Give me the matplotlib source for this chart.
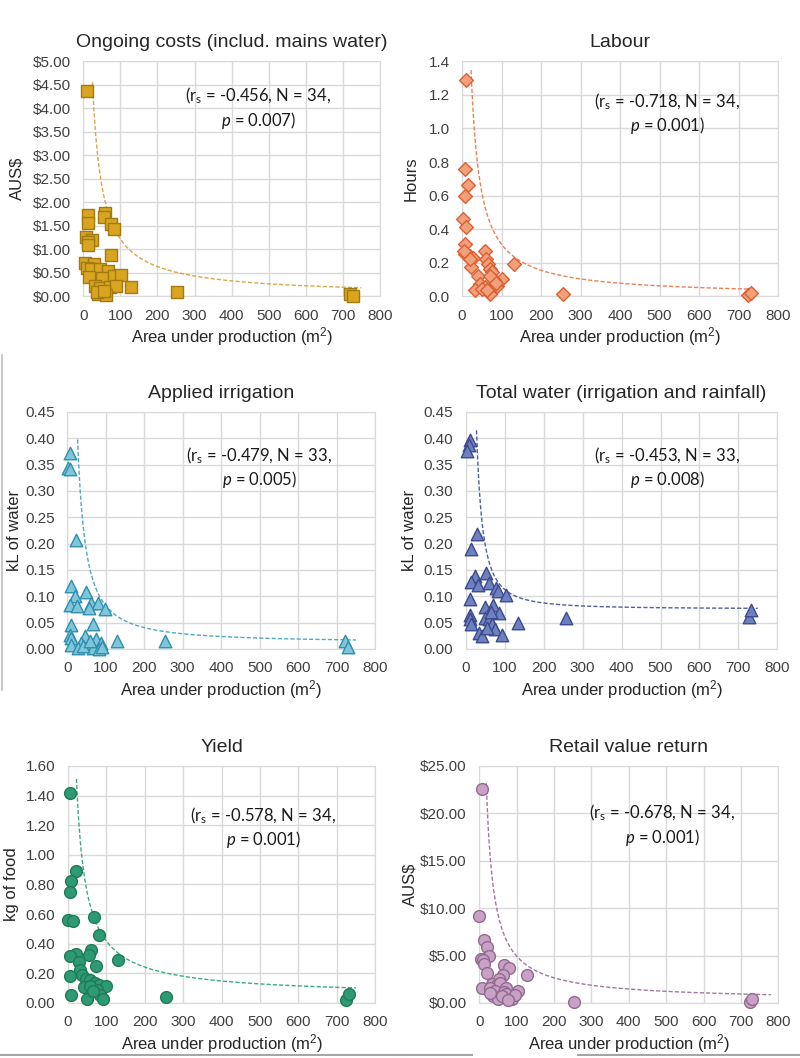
import numpy as np
import matplotlib
matplotlib.use("Agg")
import matplotlib.pyplot as plt
from matplotlib.ticker import StrMethodFormatter, MultipleLocator
from matplotlib.lines import Line2D

plt.rcParams['font.family'] = ['Liberation Sans', 'DejaVu Sans']
plt.rcParams['mathtext.fontset'] = 'custom'
plt.rcParams['mathtext.it'] = 'Lato:italic'
plt.rcParams['mathtext.rm'] = 'Lato'

# --- data (area m2, value) ---
cost_area = [9, 12, 12, 59, 56, 75, 82, 7, 25, 13, 14, 75, 4, 28, 10, 22, 46, 66,
             16, 50, 82, 102, 32, 46, 73, 88, 129, 39, 61, 38, 253, 720, 728, 56]
cost_val = [4.36, 1.72, 1.55, 1.77, 1.69, 1.53, 1.44, 1.26, 1.19, 1.16, 1.09, 0.87,
            0.71, 0.68, 0.61, 0.57, 0.59, 0.54, 0.40, 0.38, 0.43, 0.45, 0.21, 0.18,
            0.20, 0.21, 0.20, 0.04, 0.02, 0.10, 0.09, 0.04, 0.01, 0.12]

labour_area = [10, 8, 15, 8, 3, 11, 7, 8, 19, 28, 23, 57, 62, 67, 72, 76, 40, 45,
               34, 59, 72, 88, 101, 80, 132, 255, 724, 731, 70, 85, 50, 63, 20, 6]
labour_val = [1.29, 0.76, 0.665, 0.595, 0.46, 0.41, 0.31, 0.25, 0.24, 0.23, 0.175,
              0.27, 0.22, 0.19, 0.165, 0.145, 0.12, 0.075, 0.036, 0.055, 0.016, 0.06,
              0.10, 0.095, 0.19, 0.012, 0.006, 0.02, 0.12, 0.08, 0.045, 0.04, 0.22, 0.27]

irr_area = [6, 3, 7, 22, 10, 50, 19, 7, 26, 62, 80, 56, 99, 9, 66, 6, 9, 11, 46,
            35, 28, 56, 76, 87, 67, 82, 130, 255, 722, 729, 40, 60, 90]
irr_val = [0.372, 0.344, 0.341, 0.206, 0.119, 0.109, 0.10, 0.084, 0.081, 0.088,
           0.088, 0.078, 0.075, 0.046, 0.047, 0.027, 0.021, 0.008, 0.024, 0.011,
           0.002, 0.008, 0.018, 0.011, 0.002, 0.0, 0.016, 0.015, 0.015, 0.003,
           0.005, 0.015, 0.003]

tot_area = [10, 8, 2, 27, 12, 23, 51, 12, 32, 60, 77, 83, 103, 9, 49, 69, 86, 9,
            10, 13, 49, 60, 66, 75, 92, 34, 40, 133, 256, 727, 732, 65, 55]
tot_val = [0.396, 0.387, 0.376, 0.218, 0.19, 0.138, 0.145, 0.127, 0.122, 0.125,
           0.116, 0.111, 0.103, 0.095, 0.080, 0.084, 0.068, 0.065, 0.056, 0.048,
           0.059, 0.056, 0.048, 0.037, 0.027, 0.030, 0.025, 0.049, 0.059, 0.061,
           0.074, 0.07, 0.04]

yield_area = [4, 21, 8, 6, 0, 12, 67, 80, 60, 54, 22, 6, 28, 74, 129, 32, 6, 36,
              48, 58, 71, 80, 100, 41, 56, 75, 84, 8, 49, 255, 724, 731, 65, 90]
yield_val = [1.416, 0.894, 0.825, 0.746, 0.557, 0.551, 0.58, 0.456, 0.36, 0.326,
             0.333, 0.319, 0.274, 0.252, 0.292, 0.225, 0.18, 0.191, 0.162, 0.153,
             0.135, 0.124, 0.117, 0.106, 0.112, 0.09, 0.056, 0.056, 0.027, 0.04,
             0.018, 0.063, 0.08, 0.03]

retail_area = [7, 0, 12, 22, 27, 5, 10, 12, 20, 7, 67, 81, 63, 54, 128, 34, 47, 56,
               29, 72, 43, 65, 103, 38, 50, 72, 88, 61, 254, 723, 729, 95, 30, 76]
retail_val = [22.57, 9.15, 6.69, 5.92, 4.96, 4.68, 4.51, 4.08, 3.17, 1.58, 3.98,
              3.73, 2.92, 2.57, 2.99, 2.04, 1.87, 2.11, 1.62, 1.58, 1.23, 1.16, 1.23,
              0.70, 0.46, 0.92, 0.46, 0.70, 0.11, 0.11, 0.39, 0.8, 1.1, 0.3]

# dashed trendlines y = a*x^b + c, drawn from x_start to x_end
trend_a = [97, 31, 28, 92, 23.8, 377]
trend_b = [-0.95, -1.0, -1.3, -1.7, -0.9, -0.95]
trend_c = [0, 0, 0.012, 0.076, 0.04, 0.2]
trend_x = [(25, 750), (23, 745), (27, 750), (27, 750), (22, 750), (19, 780)]

titles = ["Ongoing costs (includ. mains water)", "Labour", "Applied irrigation",
          "Total water (irrigation and rainfall)", "Yield", "Retail value return"]
ylabels = ["AUS$", "Hours", "kL of water", "kL of water", "kg of food", "AUS$"]
stats = [("-0.456", "34", "0.007"), ("-0.718", "34", "0.001"),
         ("-0.479", "33", "0.005"), ("-0.453", "33", "0.008"),
         ("-0.578", "34", "0.001"), ("-0.678", "34", "0.001")]
areas = [cost_area, labour_area, irr_area, tot_area, yield_area, retail_area]
values = [cost_val, labour_val, irr_val, tot_val, yield_val, retail_val]

ymax = [5.0, 1.4, 0.45, 0.45, 1.6, 25]
ystep = [0.5, 0.2, 0.05, 0.05, 0.2, 5]
yfmt = ["${x:.2f}", "{x:.1f}", "{x:.2f}", "{x:.2f}", "{x:.2f}", "${x:.2f}"]
markers = ["s", "D", "^", "^", "o", "o"]
msize = [8, 7, 9, 9, 8.5, 8.5]
faces = ["#d9a520", "#f2a07a", "#7fc6db", "#6f80bf", "#2e9a74", "#c7a2c6"]
edges = ["#a37a12", "#dc5f34", "#2f8fae", "#3b4a8f", "#207a58", "#94698f"]
tcols = ["#d6a84a", "#e8825a", "#4fa8c8", "#4f5f9f", "#3aab84", "#a07a9e"]

# axes boxes in figure fractions
boxes = [(0.104, 0.720, 0.371, 0.222), (0.5775, 0.720, 0.395, 0.222),
         (0.084, 0.3866, 0.385, 0.224), (0.5825, 0.3866, 0.389, 0.224),
         (0.085, 0.052, 0.384, 0.224), (0.599, 0.052, 0.374, 0.224)]
text_pos = [(0.59, 0.80), (0.65, 0.777), (0.623, 0.763), (0.646, 0.763),
            (0.635, 0.738), (0.612, 0.75)]
ylab_x = [-0.199, -0.136, -0.146, -0.158, -0.16, -0.207]

fig = plt.figure(figsize=(8, 10.58), dpi=100)
grid_col = "#d9d9d9"

for i in range(6):
    ax = fig.add_axes(boxes[i])
    ax.scatter(areas[i], values[i], marker=markers[i], s=msize[i] ** 2,
               facecolor=faces[i], edgecolor=edges[i], linewidth=1.0,
               zorder=3, clip_on=False)
    xs = np.linspace(trend_x[i][0], trend_x[i][1], 300)
    ys = trend_a[i] * xs ** trend_b[i] + trend_c[i]
    ax.plot(xs, ys, linestyle=(0, (3, 1.5)), color=tcols[i], linewidth=1.0, zorder=2)

    ax.set_xlim(0, 800)
    ax.set_ylim(0, ymax[i])
    ax.xaxis.set_major_locator(MultipleLocator(100))
    ax.yaxis.set_major_locator(MultipleLocator(ystep[i]))
    ax.yaxis.set_major_formatter(StrMethodFormatter(yfmt[i]))
    ax.grid(True, color=grid_col, linewidth=1.0, zorder=0)
    ax.set_axisbelow(True)
    for sp in ax.spines.values():
        sp.set_color(grid_col)
    ax.tick_params(length=0, labelsize=11, colors="#404040")
    ax.tick_params(axis="x", pad=9)
    ax.tick_params(axis="y", pad=9)

    ax.set_title(titles[i], fontsize=14, color="#262626", pad=10)
    ax.set_xlabel("Area under production (m$\\mathregular{^2}$)", fontsize=12,
                  color="#262626", labelpad=2)
    ax.set_ylabel(ylabels[i], fontsize=12, color="#262626")
    ax.yaxis.set_label_coords(ylab_x[i], 0.5)

    r, n, p = stats[i]
    ax.text(text_pos[i][0], text_pos[i][1],
            "(r$\\mathregular{_s}$ = " + r + ", N = " + n + ",\n$p$ = " + p + ")",
            transform=ax.transAxes, ha="center", va="center", fontsize=12,
            family="Lato", color="#1a1a1a", linespacing=1.2, zorder=4)

# stray frame lines from the source figure
fig.add_artist(Line2D([0.003, 0.003], [1 - 355 / 1058, 1 - 690 / 1058],
                      color="#bfbfbf", linewidth=1.2))
fig.add_artist(Line2D([0.0, 0.5], [0.0025, 0.0025], color="#a6a6a6", linewidth=1.5))
fig.add_artist(Line2D([0.5, 0.59], [0.0025, 0.0025], color="#a6a6a6", linewidth=1.5))
fig.add_artist(Line2D([0.723, 1.0], [0.0025, 0.0025], color="#a6a6a6", linewidth=1.5))

fig.savefig("out.png", dpi=100, facecolor="white")
